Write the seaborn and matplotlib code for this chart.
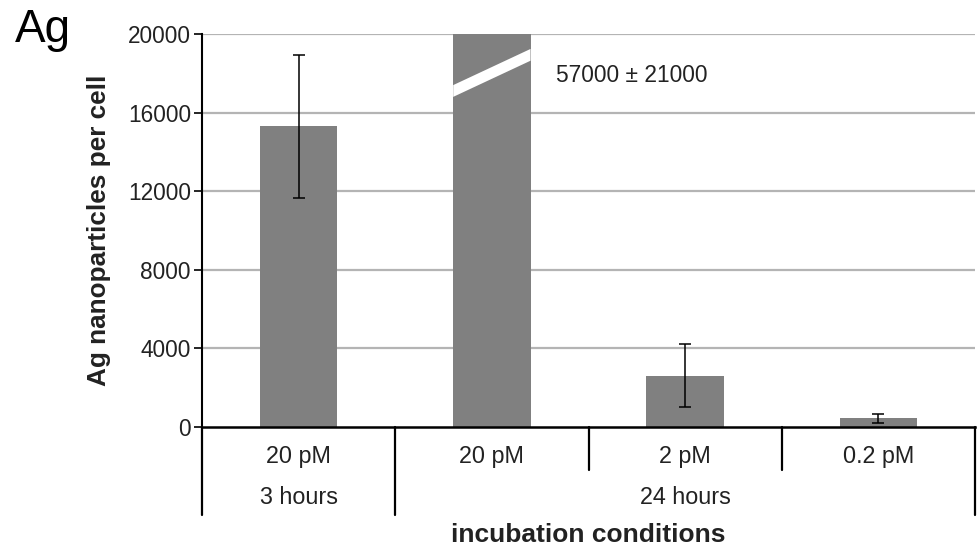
import matplotlib
matplotlib.use("Agg")
import matplotlib.pyplot as plt
import seaborn as sns
import pandas as pd
from matplotlib.patches import Polygon

# Measured nanoparticle uptake per cell
concentrations = ["20 pM", "20 pM", "2 pM", "0.2 pM"]
durations = ["3 hours", "24 hours", "24 hours", "24 hours"]
particles_per_cell = [15300, 57000, 2600, 450]
particles_sd = [3650, 21000, 1600, 230]
y_ticks = [0, 4000, 8000, 12000, 16000, 20000]

sns.set_theme(style="white")
plt.rcParams["font.family"] = ["Liberation Sans", "DejaVu Sans"]

df = pd.DataFrame({
    "condition": [f"{d} / {c}" for d, c in zip(durations, concentrations)],
    "count": particles_per_cell,
})

fig = plt.figure(figsize=(9.78, 5.49), dpi=100)
ax = fig.add_axes([202 / 978, 1 - 427 / 549, (975 - 202) / 978, (427 - 34) / 549])

sns.barplot(data=df, x="condition", y="count", color="#808080", saturation=1,
            width=0.4, errorbar=None, ax=ax, zorder=3)
for p in ax.patches:
    p.set_edgecolor("none")

y_max = y_ticks[-1]
ax.set_ylim(0, y_max)
ax.set_xlim(-0.5, len(df) - 0.5)

# error bars (the off-scale bar is clipped away)
shown = [i for i, v in enumerate(particles_per_cell) if v - particles_sd[i] < y_max]
ax.errorbar([i for i in shown], [particles_per_cell[i] for i in shown],
            yerr=[particles_sd[i] for i in shown], fmt="none", ecolor="black",
            elinewidth=1.1, capsize=4.5, capthick=1.1, zorder=4)

# axis break on the bar that exceeds the scale
for i, v in enumerate(particles_per_cell):
    if v > y_max:
        bar = ax.patches[i]
        x0, x1 = bar.get_x(), bar.get_x() + bar.get_width()
        lo, hi, t = 0.855 * y_max, 0.947 * y_max, 0.015 * y_max
        ax.add_patch(Polygon([(x0, lo - t), (x1, hi - t), (x1, hi + t), (x0, lo + t)],
                             closed=True, facecolor="white", edgecolor="none", zorder=5))
        ax.text(x1 + 0.13, 0.895 * y_max, f"{v} ± {particles_sd[i]}",
                fontsize=16.4, va="center", ha="left", color="#222222")

# grid lines
for yt in y_ticks[1:]:
    ax.axhline(yt, color="#b4b4b4", lw=1.6, zorder=1)

ax.set_yticks(y_ticks)
ax.set_yticklabels([str(t) for t in y_ticks], fontsize=16.3, color="#222222")
ax.tick_params(axis="y", direction="out", length=6, width=1.2, color="black", pad=2, left=True)
ax.set_xticks([])
ax.set_xlabel("")
ax.set_ylabel("Ag nanoparticles per cell", fontsize=18.8, fontweight="bold",
              color="#222222", labelpad=12)

for s in ["top", "right"]:
    ax.spines[s].set_visible(False)
ax.spines["left"].set_color("black")
ax.spines["left"].set_linewidth(1.5)
ax.spines["bottom"].set_color("black")
ax.spines["bottom"].set_linewidth(1.8)
ax.spines["bottom"].set_zorder(6)

# category table below the axis
n = len(df)
trans = ax.get_xaxis_transform()
long_drop, short_drop = -(515 - 427) / 393, -(470 - 427) / 393
group_edges = [0]
for i in range(1, n):
    if durations[i] != durations[i - 1]:
        group_edges.append(i)
group_edges.append(n)
for i in range(n + 1):
    depth = long_drop if i in group_edges else short_drop
    ax.plot([i - 0.5, i - 0.5], [0, depth], transform=trans, color="black",
            lw=1.6, clip_on=False)
for i, c in enumerate(concentrations):
    ax.text(i, -(456 - 427) / 393, c, transform=trans, ha="center", va="center",
            fontsize=16.8, color="#222222")
for a, b in zip(group_edges[:-1], group_edges[1:]):
    ax.text((a + b - 1) / 2, -(498 - 427) / 393, durations[a], transform=trans,
            ha="center", va="center", fontsize=16.8, color="#222222")
ax.text(0.5, -(535 - 427) / 393, "incubation conditions", transform=ax.transAxes,
        ha="center", va="center", fontsize=19, fontweight="bold", color="#222222")

fig.text(15 / 978, 1 - 30 / 549, "Ag", fontsize=33, ha="left", va="center", color="black")

fig.savefig("out.png", dpi=100)
